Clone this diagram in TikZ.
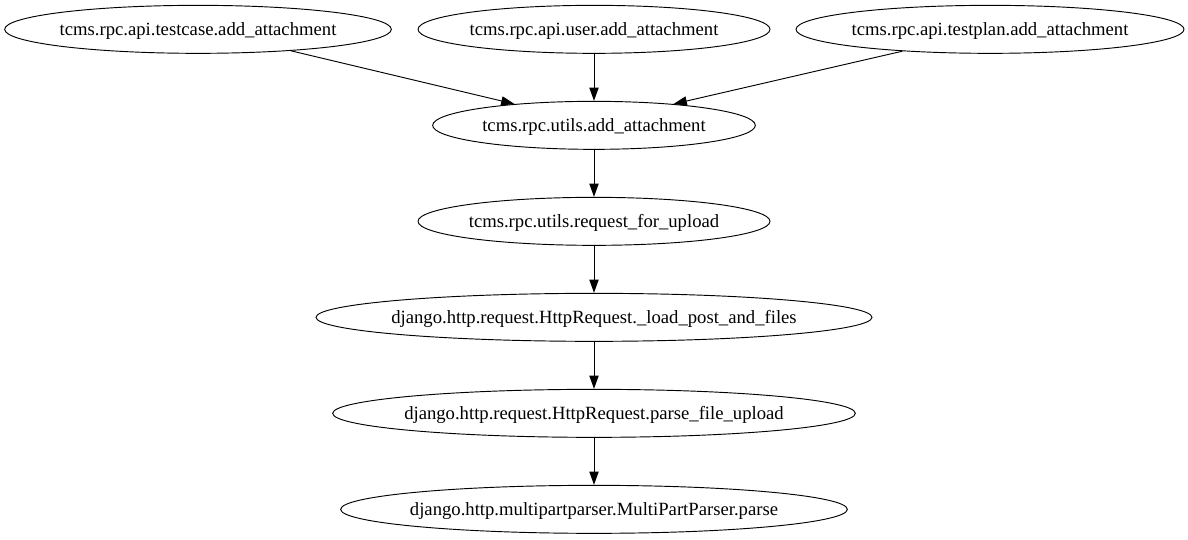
\documentclass[tikz,border=0pt]{standalone}
\usepackage{fontspec}
\setmainfont{Liberation Serif}
\usetikzlibrary{shapes.geometric,arrows.meta}
\begin{document}
\begin{tikzpicture}[x=1pt,y=1pt,
  fn/.style={ellipse,draw,line width=0.7pt,inner sep=0pt,minimum height=36pt},
  arr/.style={line width=0.7pt,-{Triangle[length=10pt,width=7pt]}},
  lbl/.style={font=\fontsize{14}{16}\selectfont,yshift=-1.2pt}]
\useasboundingbox (0,0) rectangle (891,-404.25);
\node[fn,minimum width=290pt,label={[lbl]center:tcms.rpc.api.testcase.add\_attachment}] (tc) at (148.5,-22) {};
\node[fn,minimum width=264pt,label={[lbl]center:tcms.rpc.api.user.add\_attachment}] (us) at (445.5,-22) {};
\node[fn,minimum width=291pt,label={[lbl]center:tcms.rpc.api.testplan.add\_attachment}] (tp) at (742.5,-22) {};
\node[fn,minimum width=242pt,label={[lbl]center:tcms.rpc.utils.add\_attachment}] (ua) at (445.5,-94) {};
\node[fn,minimum width=264pt,label={[lbl]center:tcms.rpc.utils.request\_for\_upload}] (rf) at (445.5,-166) {};
\node[fn,minimum width=417pt,label={[lbl]center:django.http.request.HttpRequest.\_load\_post\_and\_files}] (lp) at (445.5,-238) {};
\node[fn,minimum width=392pt,label={[lbl]center:django.http.request.HttpRequest.parse\_file\_upload}] (pf) at (445.5,-310) {};
\node[fn,minimum width=380pt,label={[lbl]center:django.http.multipartparser.MultiPartParser.parse}] (mp) at (445.5,-382) {};
\draw[arr] (tc.-13.8) -- (ua.165.7);
\draw[arr] (us.south) -- (ua.north);
\draw[arr] (tp.194.2) -- (ua.15.2);
\draw[arr] (ua.south) -- (rf.north);
\draw[arr] (rf.south) -- (lp.north);
\draw[arr] (lp.south) -- (pf.north);
\draw[arr] (pf.south) -- (mp.north);
\end{tikzpicture}
\end{document}
